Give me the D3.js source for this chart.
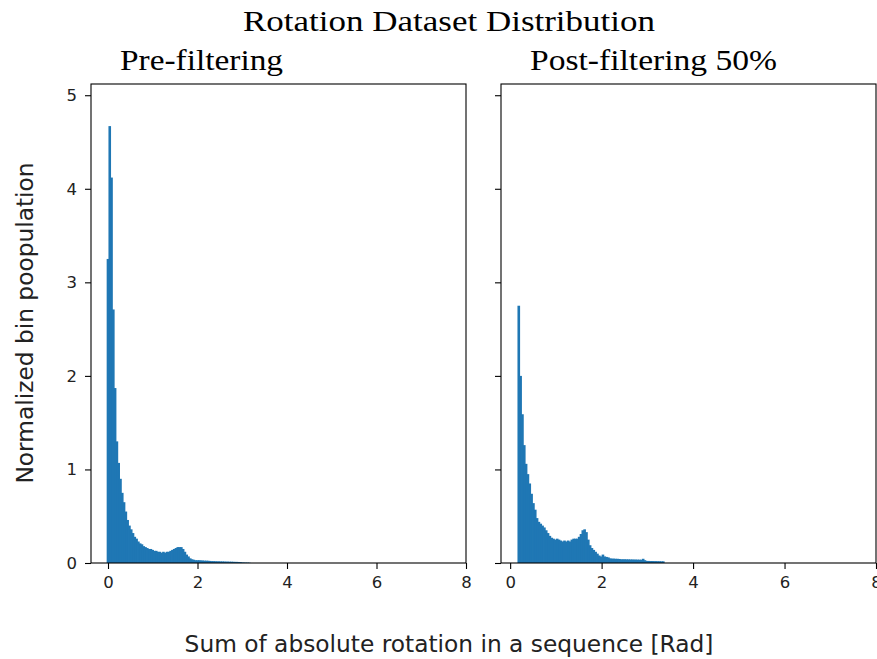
<!DOCTYPE html>
<html>
<head>
<meta charset="utf-8">
<script src="https://cdn.jsdelivr.net/npm/d3@7"></script>
<style>
  body { margin: 0; background: #fff; }
  svg { display: block; }
</style>
</head>
<body>
<svg id="chart" width="877" height="659"></svg>
<script>
// histogram data (bin population, normalized)
const preBinStart = -0.03;
const preBinWidth = 0.04;
const preValues = [
  3.25, 4.67, 4.12, 2.71, 1.87, 1.30, 1.07, 0.90, 0.75, 0.65,
  0.55, 0.46, 0.40, 0.36, 0.32, 0.28, 0.26, 0.23, 0.21, 0.20,
  0.18, 0.17, 0.16, 0.15, 0.15, 0.14, 0.13, 0.13, 0.12, 0.12,
  0.11, 0.12, 0.11, 0.12, 0.12, 0.13, 0.14, 0.15, 0.16, 0.17,
  0.17, 0.17, 0.15, 0.12, 0.09, 0.07, 0.05, 0.04, 0.035, 0.03,
  0.03, 0.03, 0.028, 0.027, 0.025, 0.025, 0.024, 0.022, 0.02, 0.02,
  0.019, 0.018, 0.018, 0.017, 0.017, 0.016, 0.015, 0.015, 0.014, 0.014,
  0.013, 0.012, 0.012, 0.011, 0.010, 0.006, 0.005, 0.004, 0.004, 0.003
];

const postBinStart = 0.16;
const postBinWidth = 0.04;
const postValues = [
  2.75, 2.00, 1.59, 1.26, 1.06, 0.95, 0.85, 0.74, 0.64, 0.57,
  0.48, 0.44, 0.42, 0.40, 0.38, 0.35, 0.32, 0.29, 0.27, 0.26,
  0.25, 0.26, 0.25, 0.24, 0.23, 0.24, 0.23, 0.24, 0.23, 0.25,
  0.26, 0.26, 0.26, 0.28, 0.31, 0.35, 0.36, 0.33, 0.25, 0.19,
  0.16, 0.14, 0.12, 0.10, 0.08, 0.07, 0.09, 0.07, 0.065, 0.06,
  0.05, 0.047, 0.047, 0.045, 0.045, 0.043, 0.04, 0.04, 0.04, 0.039,
  0.039, 0.038, 0.038, 0.037, 0.037, 0.036, 0.036, 0.035, 0.045, 0.03,
  0.022, 0.022, 0.021, 0.021, 0.02, 0.02, 0.019, 0.019, 0.018, 0.018
];

const xTicks = [0, 2, 4, 6, 8];
const yTicks = [0, 1, 2, 3, 4, 5];

const panels = [
  { title: 'Pre-filtering', titleX: 120, titleLen: 163, left: 91, right: 466,
    xDomain: [-0.38, 8], start: preBinStart, width: preBinWidth, values: preValues, yLabels: true },
  { title: 'Post-filtering 50%', titleX: 530, titleLen: 247, left: 501, right: 876,
    xDomain: [-0.2, 8], start: postBinStart, width: postBinWidth, values: postValues, yLabels: false }
];

const svg = d3.select('#chart');
const plotTop = 84, plotBottom = 563;
const serif = '"Liberation Serif", "DejaVu Serif", serif';
const sans = '"DejaVu Sans", sans-serif';

const y = d3.scaleLinear().domain([0, 5.12]).range([plotBottom, plotTop]);

panels.forEach(p => {
  const x = d3.scaleLinear().domain(p.xDomain).range([p.left, p.right]);

  const bins = p.values.map((v, i) => ({
    x0: p.start + i * p.width,
    x1: p.start + (i + 1) * p.width,
    v: v
  }));

  const g = svg.append('g');

  // bars drawn right-to-left so the small overlap hides seams without spilling over
  g.selectAll('rect.bar')
    .data(bins.slice().reverse())
    .enter().append('rect')
    .attr('class', 'bar')
    .attr('x', d => x(d.x0))
    .attr('width', d => x(d.x1) - x(d.x0) + 0.8)
    .attr('y', d => y(d.v))
    .attr('height', d => y(0) - y(d.v))
    .attr('fill', '#1f77b4');

  // x axis
  const xAxis = g.append('g')
    .attr('transform', `translate(0,${plotBottom})`)
    .call(d3.axisBottom(x).tickValues(xTicks).tickSize(6).tickPadding(7).tickFormat(d3.format('d')));
  xAxis.select('.domain').remove();
  xAxis.selectAll('line').attr('stroke', '#000').attr('stroke-width', 1.1);
  xAxis.selectAll('text').attr('font-family', sans).attr('font-size', 16.5).attr('fill', '#222');

  // y axis
  const yAxis = g.append('g')
    .attr('transform', `translate(${p.left},0)`)
    .call(d3.axisLeft(y).tickValues(yTicks).tickSize(6).tickPadding(8)
      .tickFormat(p.yLabels ? d3.format('d') : () => ''));
  yAxis.select('.domain').remove();
  yAxis.selectAll('line').attr('stroke', '#000').attr('stroke-width', 1.1);
  yAxis.selectAll('text').attr('font-family', sans).attr('font-size', 16.5).attr('fill', '#222');

  // frame
  g.append('rect')
    .attr('x', p.left)
    .attr('y', plotTop)
    .attr('width', p.right - p.left)
    .attr('height', plotBottom - plotTop)
    .attr('fill', 'none')
    .attr('stroke', '#000')
    .attr('stroke-width', 1.1);

  // subplot title
  svg.append('text')
    .attr('x', p.titleX)
    .attr('y', 70)
    .attr('font-family', serif)
    .attr('font-size', 29)
    .attr('textLength', p.titleLen)
    .attr('lengthAdjust', 'spacingAndGlyphs')
    .text(p.title);
});

// main title
svg.append('text')
  .attr('x', 243)
  .attr('y', 31)
  .attr('font-family', serif)
  .attr('font-size', 29)
  .attr('textLength', 412)
  .attr('lengthAdjust', 'spacingAndGlyphs')
  .text('Rotation Dataset Distribution');

// axis labels
svg.append('text')
  .attr('x', 449)
  .attr('y', 652)
  .attr('text-anchor', 'middle')
  .attr('font-family', sans)
  .attr('font-size', 23.3)
  .attr('fill', '#222')
  .text('Sum of absolute rotation in a sequence [Rad]');

svg.append('text')
  .attr('transform', 'translate(33,323) rotate(-90)')
  .attr('text-anchor', 'middle')
  .attr('font-family', sans)
  .attr('font-size', 23.3)
  .attr('fill', '#222')
  .text('Normalized bin poopulation');
</script>
</body>
</html>
